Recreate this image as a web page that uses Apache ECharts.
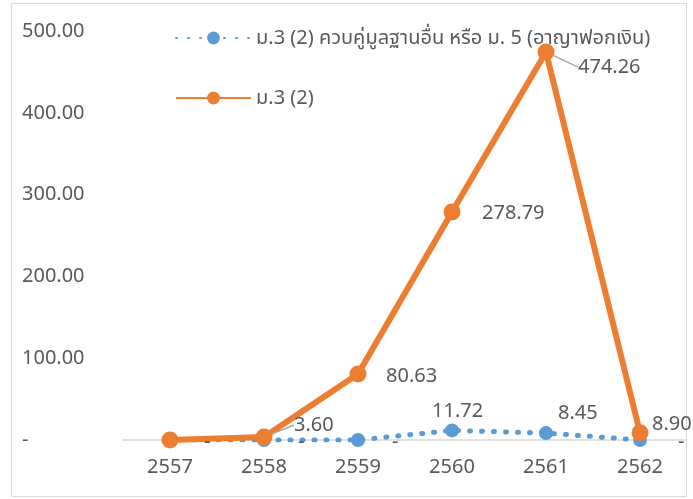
<!DOCTYPE html>
<html>
<head>
<meta charset="utf-8">
<script src="https://cdn.jsdelivr.net/npm/echarts@6/dist/echarts.min.js"></script>
<style>
html,body{margin:0;padding:0;background:#fff;}
#c{width:693px;height:499px;}
</style>
</head>
<body>
<div id="c"></div>
<script>
var categories = ['2557', '2558', '2559', '2560', '2561', '2562'];
var seriesNames = ['ม.3 (2) ควบคู่มูลฐานอื่น หรือ ม. 5 (อาญาฟอกเงิน)', 'ม.3 (2)'];
var blueValues = [0, 0, 0, 11.72, 8.45, 0];
var orangeValues = [0, 3.60, 80.63, 278.79, 474.26, 8.90];
var yTicks = [0, 100, 200, 300, 400, 500];

var FONT = '"Noto Sans", "Noto Sans Thai", "DejaVu Sans", sans-serif';
var TXT = '#595959';
var FS = 20;

// label placement styles (offsets in px relative to the point)
var orangeLabelOffsets = [[34, 2], [30, -12], [28, 2], [30, 1], [32, 15], [12, -8]];
var blueLabelOffsets = [[34, 2], [34, 2], [34, 2], [-20, -19], [12, -20], [38, 2]];

function fmt(v) {
  if (v === 0) return '-';
  return v.toFixed(2);
}

function buildData(values, offsets, leaders) {
  return values.map(function (v, i) {
    var item = {
      value: v,
      label: { offset: offsets[i] }
    };
    if (leaders && leaders[i]) {
      item.labelLine = { show: true, lineStyle: { color: '#a6a6a6', width: 1.5 } };
    }
    return item;
  });
}

var chart = echarts.init(document.getElementById('c'));
chart.setOption({
  animation: false,
  backgroundColor: '#fff',
  graphic: [{
    type: 'rect',
    shape: { x: 11.5, y: 3.5, width: 675, height: 493 },
    style: { fill: 'none', stroke: '#d9d9d9', lineWidth: 1 },
    z: -10
  }],
  legend: {
    orient: 'vertical',
    left: 170,
    top: 20,
    itemWidth: 75,
    itemHeight: 16,
    itemGap: 34,
    textStyle: { fontFamily: FONT, fontSize: FS, color: TXT, lineHeight: 26 },
    data: seriesNames
  },
  grid: { left: 123, right: 6, top: 31, bottom: 59 },
  xAxis: {
    type: 'category',
    data: categories,
    boundaryGap: true,
    axisLine: { show: true, lineStyle: { color: '#d9d9d9', width: 1.5 } },
    axisTick: { show: false },
    axisLabel: { fontFamily: FONT, fontSize: FS, color: TXT, margin: 17 }
  },
  yAxis: {
    type: 'value',
    min: yTicks[0],
    max: yTicks[yTicks.length - 1],
    interval: 100,
    axisLine: { show: false },
    axisTick: { show: false },
    splitLine: { show: false },
    axisLabel: {
      fontFamily: FONT, fontSize: FS, color: TXT,
      align: 'left', margin: 101,
      formatter: function (v) { return fmt(v); }
    }
  },
  series: [{
    name: seriesNames[0],
    type: 'line',
    data: buildData(blueValues, blueLabelOffsets),
    symbol: 'circle',
    symbolSize: 14,
    lineStyle: { color: '#5B9BD5', width: 5, type: [1, 11], cap: 'round' },
    itemStyle: { color: '#5B9BD5' },
    label: {
      show: true,
      position: 'inside',
      fontFamily: FONT, fontSize: FS, color: TXT,
      align: 'left', verticalAlign: 'middle',
      formatter: function (p) { return fmt(p.value); }
    },
    z: 2
  }, {
    name: seriesNames[1],
    type: 'line',
    data: buildData(orangeValues, orangeLabelOffsets, [false, true, false, false, true, false]),
    symbol: 'circle',
    symbolSize: 17,
    lineStyle: { color: '#ED7D31', width: 6 },
    itemStyle: { color: '#ED7D31' },
    label: {
      show: true,
      position: 'inside',
      fontFamily: FONT, fontSize: FS, color: TXT,
      align: 'left', verticalAlign: 'middle',
      formatter: function (p) { return fmt(p.value); }
    },
    z: 3
  }]
});
</script>
</body>
</html>
